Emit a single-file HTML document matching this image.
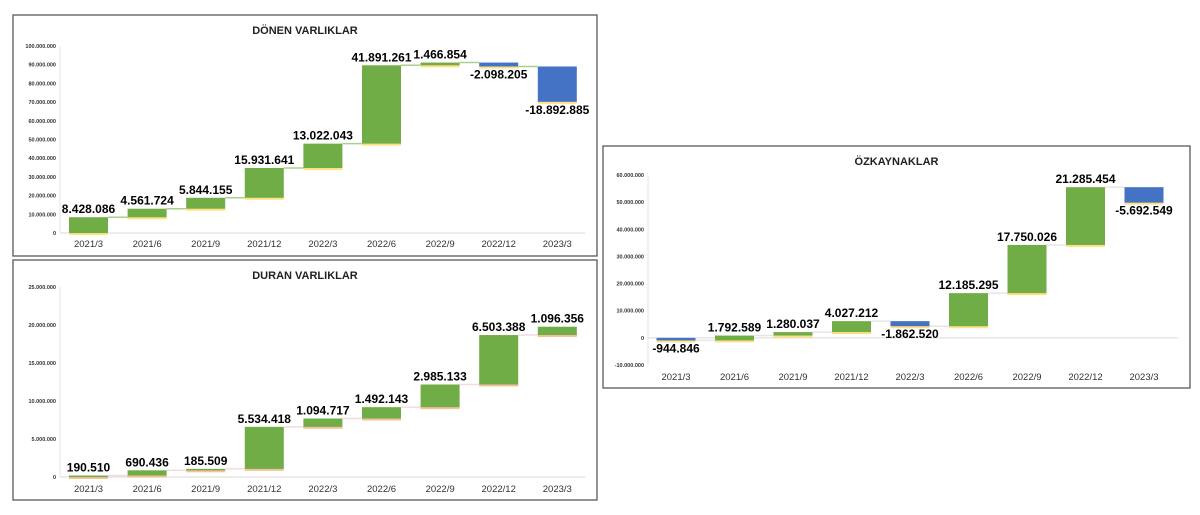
<!DOCTYPE html>
<html><head><meta charset="utf-8"><style>
body{margin:0;background:#fff;width:1200px;height:515px;overflow:hidden;font-family:"Liberation Sans",sans-serif}
svg{position:absolute;left:0;top:0}
</style></head><body>
<svg id="s" width="1200" height="515"></svg>
<script>
const categories=["2021/3","2021/6","2021/9","2021/12","2022/3","2022/6","2022/9","2022/12","2023/3"];
const donenValues=[8428086,4561724,5844155,15931641,13022043,41891261,1466854,-2098205,-18892885];
const donenTicks=[0,10000000,20000000,30000000,40000000,50000000,60000000,70000000,80000000,90000000,100000000];
const duranValues=[190510,690436,185509,5534418,1094717,1492143,2985133,6503388,1096356];
const duranTicks=[0,5000000,10000000,15000000,20000000,25000000];
const ozValues=[-944846,1792589,1280037,4027212,-1862520,12185295,17750026,21285454,-5692549];
const ozTicks=[-10000000,0,10000000,20000000,30000000,40000000,50000000,60000000];

const NS="http://www.w3.org/2000/svg";const svg=document.getElementById('s');
function mk(tag,at,parent,txt){const e=document.createElementNS(NS,tag);for(const k in at)e.setAttribute(k,at[k]);if(txt!==undefined)e.textContent=txt;(parent||svg).appendChild(e);return e;}
function fmt(v){const s=Math.abs(v).toString().replace(/\B(?=(\d{3})+(?!\d))/g,'.');return (v<0?'-':'')+s;}
function chart(o){
 const g=mk('g',{});
 
 
 const box=mk('rect',{x:o.bx,y:o.by,width:o.bw,height:o.bh,fill:'#fff',stroke:'#595959','stroke-width':1.3},g);
 
 const t=mk('text',{x:o.bx+o.bw/2,y:o.by+19,'text-anchor':'middle','font-size':11,'font-weight':'bold',fill:'#222'},g,o.title);
 
 const ymin=o.ticks[0],ymax=o.ticks[o.ticks.length-1];
 const Y=v=>o.y0+(v-ymin)/(ymax-ymin)*(o.y1-o.y0);
 const X=i=>o.x0+i*o.dx;
 mk('line',{x1:o.px,x2:o.bx+o.bw-12,y1:Y(0),y2:Y(0),stroke:'#d9d9d9'},g);
 mk('line',{x1:o.px,x2:o.px,y1:Y(ymax),y2:Y(ymin),stroke:'#e6e6e6'},g);
 o.ticks.forEach(v=>{const e=mk('text',{x:o.px-4,y:Y(v)+2,'text-anchor':'end','font-size':5.5,'font-weight':'bold',fill:'#333'},g,fmt(v));
  });
 let cum=0;const bw=39;
 o.values.forEach((v,i)=>{
  const a=cum,b=cum+v;cum=b;const top=Math.max(a,b),bot=Math.min(a,b);
  const x=X(i);
  mk('rect',{x:x-bw/2,y:Y(bot)-1,width:bw,height:3,fill:o.shadow,opacity:0.8},g);
  const r=mk('rect',{x:x-bw/2,y:Y(top),width:bw,height:Math.max(1.5,Y(bot)-Y(top)),fill:v>=0?'#70ad47':'#4472c4'},g);
  
  if(i<o.values.length-1)mk('line',{x1:x+bw/2,x2:X(i+1)-bw/2,y1:Y(b),y2:Y(b),stroke:o.conn,'stroke-width':1.5},g);
  const ly=v>=0?Y(top)-4:Y(bot)+12;
  const l=mk('text',{x:x,y:ly,'text-anchor':'middle','font-size':12,'font-weight':'bold',fill:'#000'},g,fmt(v));
  
  const c=mk('text',{x:x,y:o.cy,'text-anchor':'middle','font-size':9.5,fill:'#333'},g,categories[i]);
  
 });
}
chart({name:'donen-varliklar-chart',title:'DÖNEN VARLIKLAR',bx:13,by:15,bw:584,bh:241,px:60,ticks:donenTicks,values:donenValues,y0:233,y1:46,x0:88.5,dx:58.6,cy:247,shadow:'#ffd966',conn:'#a9d18e'});
chart({name:'duran-varliklar-chart',title:'DURAN VARLIKLAR',bx:13,by:260,bw:584,bh:240,px:60,ticks:duranTicks,values:duranValues,y0:477,y1:287,x0:88.5,dx:58.6,cy:492,shadow:'#f4b183',conn:'#f2dcdb'});
chart({name:'ozkaynaklar-chart',title:'ÖZKAYNAKLAR',bx:603,by:146,bw:587,bh:242,px:648,ticks:ozTicks,values:ozValues,y0:365,y1:175,x0:676,dx:58.5,cy:380,shadow:'#ffd966',conn:'#e7e6e6'});
</script>
</body></html>
